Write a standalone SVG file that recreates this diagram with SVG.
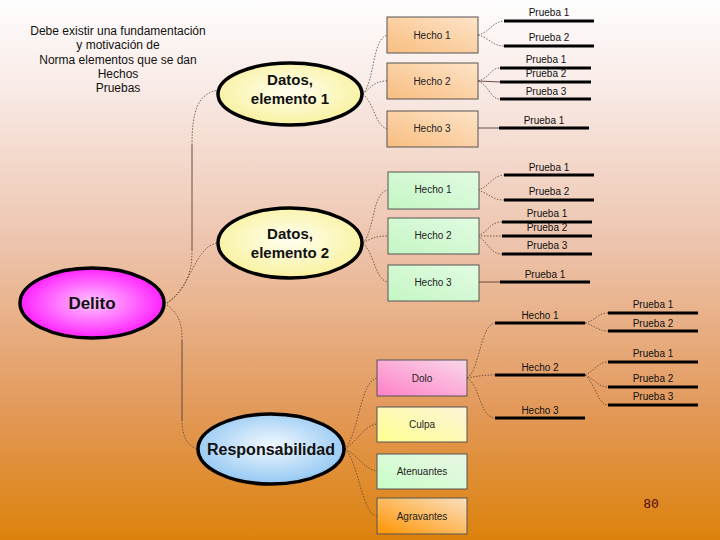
<svg xmlns="http://www.w3.org/2000/svg" width="720" height="540" viewBox="0 0 720 540">
<defs>
<linearGradient id="bg" x1="0" y1="0" x2="0" y2="1">
<stop offset="0" stop-color="#fefdfd"/>
<stop offset="0.15" stop-color="#f9ece8"/>
<stop offset="0.45" stop-color="#edc4ad"/>
<stop offset="0.75" stop-color="#e39a5c"/>
<stop offset="1" stop-color="#dc820c"/>
</linearGradient>
<radialGradient id="gYel" cx="0.5" cy="0.45" r="0.6">
<stop offset="0" stop-color="#fffff0"/>
<stop offset="1" stop-color="#f8f098"/>
</radialGradient>
<radialGradient id="gMag" cx="0.5" cy="0.5" r="0.6">
<stop offset="0" stop-color="#ffc8ff"/>
<stop offset="1" stop-color="#ff00ff"/>
</radialGradient>
<radialGradient id="gBlue" cx="0.5" cy="0.45" r="0.6">
<stop offset="0" stop-color="#f2f8ff"/>
<stop offset="1" stop-color="#8cc4f2"/>
</radialGradient>
<linearGradient id="gPeach" x1="0" y1="1" x2="1" y2="0">
<stop offset="0" stop-color="#f9bd80"/>
<stop offset="1" stop-color="#fde4c8"/>
</linearGradient>
<linearGradient id="gGreen" x1="0" y1="1" x2="1" y2="0">
<stop offset="0" stop-color="#c4f6c4"/>
<stop offset="1" stop-color="#e2fbe2"/>
</linearGradient>
<linearGradient id="gPink" x1="0" y1="1" x2="1" y2="0">
<stop offset="0" stop-color="#ff80c8"/>
<stop offset="1" stop-color="#f8d8e8"/>
</linearGradient>
<linearGradient id="gLY" x1="0" y1="1" x2="1" y2="0">
<stop offset="0" stop-color="#ffff90"/>
<stop offset="1" stop-color="#fcf4d8"/>
</linearGradient>
<linearGradient id="gLG" x1="0" y1="1" x2="1" y2="0">
<stop offset="0" stop-color="#c8ffc8"/>
<stop offset="1" stop-color="#eaf6e4"/>
</linearGradient>
<linearGradient id="gOr" x1="0" y1="1" x2="1" y2="0">
<stop offset="0" stop-color="#ff9400"/>
<stop offset="1" stop-color="#fbe0c0"/>
</linearGradient>
</defs>
<style>
text { font-family: "Liberation Sans", Arial, sans-serif; }
.ell { stroke: #000; stroke-width: 3.5; }
.big { font-size: 15px; font-weight: bold; fill: #111; text-anchor: middle; }
.box { stroke: #555; stroke-width: 1; }
.bt { font-size: 10px; fill: #222; text-anchor: middle; }
.pl { stroke: #000; stroke-width: 3; }
.pt { font-size: 10px; fill: #111; text-anchor: middle; }
.c { fill: none; stroke: #5a4034; stroke-width: 0.8; stroke-dasharray: 1.5 1.5; }
.s { fill: none; stroke: #5a4034; stroke-width: 0.9; }
.note { font-size: 12px; fill: #111; text-anchor: middle; }
</style>
<rect x="0" y="0" width="720" height="540" fill="url(#bg)"/>

<g id="connectors">
<!-- Delito to Datos 1 -->
<path class="c" d="M167,303 C185,290 192,275 192,250"/>
<path class="s" d="M192,250 L192,145"/>
<path class="c" d="M192,145 C192,110 198,94 218,90"/>
<!-- Delito to Datos 2 -->
<path class="c" d="M167,303 C190,290 195,245 218,243"/>
<!-- Delito to Responsabilidad -->
<path class="c" d="M167,305 C180,315 182,325 182,340"/>
<path class="s" d="M182,340 L182,420"/>
<path class="c" d="M182,420 C182,440 190,447 198,449"/>
<!-- Datos 1 to hechos -->
<path class="c" d="M363,94 C375,80 372,40 387,35"/>
<path class="c" d="M363,94 C372,86 375,81 387,81"/>
<path class="c" d="M363,94 C375,105 375,125 387,129"/>
<!-- Hechos 1 to pruebas -->
<path class="c" d="M478,35 C490,32 492,22 504,21"/>
<path class="c" d="M478,35 C490,38 492,46 504,46"/>
<path class="c" d="M478,81 C490,78 490,68 500,68"/>
<path class="s" d="M478,81 L500,82"/>
<path class="c" d="M478,81 C490,86 490,99 500,99"/>
<path class="s" d="M478,128 L499,128"/>
<!-- Datos 2 to hechos -->
<path class="c" d="M363,243 C375,230 372,192 388,190"/>
<path class="c" d="M363,243 C372,238 376,236 388,236"/>
<path class="c" d="M363,243 C375,255 375,280 388,282"/>
<!-- Hechos 2 to pruebas -->
<path class="c" d="M478,190 C490,186 492,176 504,175"/>
<path class="c" d="M478,190 C490,194 492,200 504,200"/>
<path class="c" d="M478,236 C490,230 490,222 502,222"/>
<path class="c" d="M478,236 L502,236"/>
<path class="c" d="M478,236 C490,244 490,254 502,254"/>
<path class="s" d="M478,282 L500,282"/>
<!-- Responsabilidad to boxes -->
<path class="c" d="M345,449 C360,430 360,382 377,378"/>
<path class="c" d="M345,449 C358,440 365,425 377,424"/>
<path class="c" d="M345,449 C358,455 365,470 377,471"/>
<path class="c" d="M345,449 C358,460 362,515 377,516"/>
<!-- Dolo to hecho lines -->
<path class="c" d="M467,378 C480,370 480,325 495,323"/>
<path class="c" d="M467,378 C478,376 484,375 495,375"/>
<path class="c" d="M467,378 C480,385 480,418 495,418"/>
<!-- Hecho lines to pruebas -->
<path class="c" d="M585,323 C596,320 598,313 608,313"/>
<path class="c" d="M585,323 C596,326 598,331 608,331"/>
<path class="c" d="M585,375 C596,370 598,362 608,362"/>
<path class="c" d="M585,375 C596,380 598,387 608,387"/>
<path class="c" d="M585,375 C596,385 598,405 608,405"/>
</g>

<g id="nota">
<text class="note" x="118" y="35">Debe existir una fundamentación</text>
<text class="note" x="118" y="49">y motivación de</text>
<text class="note" x="118" y="64">Norma elementos que se dan</text>
<text class="note" x="118" y="78">Hechos</text>
<text class="note" x="118" y="92">Pruebas</text>
</g>

<g id="delito">
<ellipse class="ell" cx="92" cy="303" rx="72" ry="35" fill="url(#gMag)"/>
<text class="big" x="92" y="309" style="font-size:17px">Delito</text>
</g>

<g id="datos1">
<ellipse class="ell" cx="290" cy="94" rx="72" ry="31" fill="url(#gYel)"/>
<text class="big" x="290" y="85">Datos,</text>
<text class="big" x="290" y="104">elemento 1</text>
</g>

<g id="datos2">
<ellipse class="ell" cx="290" cy="243" rx="72" ry="35" fill="url(#gYel)"/>
<text class="big" x="290" y="239">Datos,</text>
<text class="big" x="290" y="258">elemento 2</text>
</g>

<g id="responsabilidad">
<ellipse class="ell" cx="271" cy="449" rx="73" ry="35" fill="url(#gBlue)"/>
<text class="big" x="271" y="455" style="font-size:16px">Responsabilidad</text>
</g>

<g id="d1-hecho1">
<rect class="box" x="387" y="17" width="91" height="36" fill="url(#gPeach)"/>
<text class="bt" x="432" y="39">Hecho 1</text>
<line class="pl" x1="504" y1="21" x2="594" y2="21"/>
<text class="pt" x="549" y="16">Prueba 1</text>
<line class="pl" x1="504" y1="46" x2="594" y2="46"/>
<text class="pt" x="549" y="41">Prueba 2</text>
</g>
<g id="d1-hecho2">
<rect class="box" x="387" y="63" width="91" height="36" fill="url(#gPeach)"/>
<text class="bt" x="432" y="85">Hecho 2</text>
<line class="pl" x1="500" y1="68" x2="591" y2="68"/>
<text class="pt" x="546" y="63">Prueba 1</text>
<line class="pl" x1="500" y1="82" x2="591" y2="82"/>
<text class="pt" x="546" y="77">Prueba 2</text>
<line class="pl" x1="500" y1="99" x2="591" y2="99"/>
<text class="pt" x="546" y="95">Prueba 3</text>
</g>
<g id="d1-hecho3">
<rect class="box" x="387" y="111" width="91" height="36" fill="url(#gPeach)"/>
<text class="bt" x="432" y="132">Hecho 3</text>
<line class="pl" x1="499" y1="128" x2="589" y2="128"/>
<text class="pt" x="544" y="124">Prueba 1</text>
</g>

<g id="d2-hecho1">
<rect class="box" x="388" y="172" width="91" height="37" fill="url(#gGreen)"/>
<text class="bt" x="433" y="193">Hecho 1</text>
<line class="pl" x1="504" y1="175" x2="594" y2="175"/>
<text class="pt" x="549" y="171">Prueba 1</text>
<line class="pl" x1="504" y1="200" x2="594" y2="200"/>
<text class="pt" x="549" y="195">Prueba 2</text>
</g>
<g id="d2-hecho2">
<rect class="box" x="388" y="218" width="91" height="36" fill="url(#gGreen)"/>
<text class="bt" x="433" y="239">Hecho 2</text>
<line class="pl" x1="502" y1="222" x2="592" y2="222"/>
<text class="pt" x="547" y="217">Prueba 1</text>
<line class="pl" x1="502" y1="236" x2="592" y2="236"/>
<text class="pt" x="547" y="231">Prueba 2</text>
<line class="pl" x1="502" y1="254" x2="592" y2="254"/>
<text class="pt" x="547" y="249">Prueba 3</text>
</g>
<g id="d2-hecho3">
<rect class="box" x="388" y="265" width="91" height="36" fill="url(#gGreen)"/>
<text class="bt" x="433" y="286">Hecho 3</text>
<line class="pl" x1="500" y1="282" x2="590" y2="282"/>
<text class="pt" x="545" y="278">Prueba 1</text>
</g>

<g id="dolo">
<rect class="box" x="377" y="360" width="90" height="36" fill="url(#gPink)"/>
<text class="bt" x="422" y="382">Dolo</text>
</g>
<g id="culpa">
<rect class="box" x="377" y="407" width="90" height="35" fill="url(#gLY)"/>
<text class="bt" x="422" y="428">Culpa</text>
</g>
<g id="atenuantes">
<rect class="box" x="377" y="454" width="90" height="35" fill="url(#gLG)"/>
<text class="bt" x="422" y="475">Atenuantes</text>
</g>
<g id="agravantes">
<rect class="box" x="377" y="498" width="90" height="36" fill="url(#gOr)"/>
<text class="bt" x="422" y="520">Agravantes</text>
</g>

<g id="r-hecho1">
<line class="pl" x1="495" y1="323" x2="585" y2="323"/>
<text class="pt" x="540" y="319">Hecho 1</text>
<line class="pl" x1="608" y1="313" x2="698" y2="313"/>
<text class="pt" x="653" y="308">Prueba 1</text>
<line class="pl" x1="608" y1="331" x2="698" y2="331"/>
<text class="pt" x="653" y="327">Prueba 2</text>
</g>
<g id="r-hecho2">
<line class="pl" x1="495" y1="375" x2="585" y2="375"/>
<text class="pt" x="540" y="371">Hecho 2</text>
<line class="pl" x1="608" y1="362" x2="698" y2="362"/>
<text class="pt" x="653" y="357">Prueba 1</text>
<line class="pl" x1="608" y1="387" x2="698" y2="387"/>
<text class="pt" x="653" y="382">Prueba 2</text>
<line class="pl" x1="608" y1="405" x2="698" y2="405"/>
<text class="pt" x="653" y="400">Prueba 3</text>
</g>
<g id="r-hecho3">
<line class="pl" x1="495" y1="418" x2="585" y2="418"/>
<text class="pt" x="540" y="414">Hecho 3</text>
</g>

<text x="651" y="508" style="font-family:'DejaVu Sans Mono','Liberation Mono',monospace;font-size:13px;fill:#5a1010" text-anchor="middle">80</text>
</svg>
